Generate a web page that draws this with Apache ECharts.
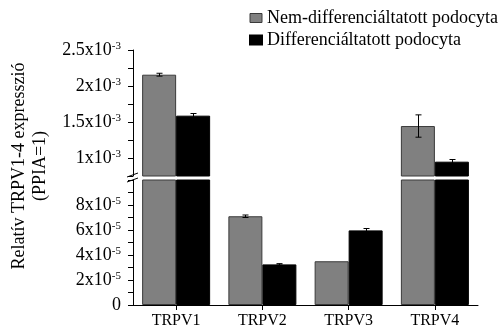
<!DOCTYPE html>
<html>
<head>
<meta charset="utf-8">
<script src="https://cdn.jsdelivr.net/npm/echarts@6/dist/echarts.min.js"></script>
<style>
    html, body {margin: 0; padding: 0; background: #fff;}
    #chart {width: 502px; height: 330px;}
</style>
</head>
<body>
<div id="chart"></div>
<script>
var categories = ['TRPV1', 'TRPV2', 'TRPV3', 'TRPV4'];
var seriesNames = ['Nem-differenciáltatott podocyta', 'Differenciáltatott podocyta'];
// relativ expresszio (PPIA=1)
var nemDiff = [2.157e-3, 7.1e-5, 3.5e-5, 1.444e-3];
var nemDiffErr = [0.02e-3, 0.1e-5, 0, 0.155e-3];
var diff = [1.588e-3, 3.25e-5, 5.97e-5, 0.949e-3];
var diffErr = [0.03e-3, 0.06e-5, 0.15e-5, 0.03e-3];
// tengely-szakaszok
var lowerRange = [0, 1e-4];
var upperRange = [0.75e-3, 2.5e-3];

var font = 'Liberation Serif';
var barW = 34;
var gray = '#808080';

function inRange(v, r) {
    return v >= r[0] && v <= r[1] ? v : '-';
}
function errData(values, errs, r, side) {
    var out = [];
    values.forEach(function (v, i) {
        if (v >= r[0] && v <= r[1] && errs[i] > 0) {
            out.push([i, v, errs[i], side]);
        }
    });
    return out;
}
function renderErr(params, api) {
    var cat = api.value(0), v = api.value(1), e = api.value(2), side = api.value(3);
    var hi = api.coord([cat, v + e]);
    var lo = api.coord([cat, v - e]);
    var x = Math.round(hi[0] + side * barW / 2) + 0.5;
    var st = {stroke: '#000', lineWidth: 1};
    return {
        type: 'group',
        children: [
            {type: 'line', shape: {x1: x, y1: hi[1], x2: x, y2: lo[1]}, style: st},
            {type: 'line', shape: {x1: x - 3, y1: hi[1], x2: x + 3, y2: hi[1]}, style: st},
            {type: 'line', shape: {x1: x - 3, y1: lo[1], x2: x + 3, y2: lo[1]}, style: st}
        ]
    };
}
var rich = {
    b: {fontFamily: font, fontSize: 18, color: '#000'},
    s: {fontFamily: font, fontSize: 11, color: '#000', verticalAlign: 'top', padding: [0, 0, 8, 0]}
};
function upperLabel(v) {
    var m = Math.round(v * 1e5) / 100;
    if (Math.abs(m * 2 - Math.round(m * 2)) > 1e-6) {
        return '';
    }
    return '{b|' + m + 'x10}{s|-3}';
}
function lowerLabel(v) {
    var n = Math.round(v * 1e5);
    if (n === 0) {
        return '{b|0}';
    }
    if (n % 2 !== 0 || n >= 10) {
        return '';
    }
    return '{b|' + n + 'x10}{s|-5}';
}

var chart = echarts.init(document.getElementById('chart'));
var axisLine = {show: true, lineStyle: {color: '#000', width: 1}};
var yTick = {show: true, length: 5, lineStyle: {color: '#000'}};

var series = [];
[[upperRange, 0], [lowerRange, 1]].forEach(function (g) {
    var r = g[0], idx = g[1];
    series.push({
        name: seriesNames[0], type: 'bar', xAxisIndex: idx, yAxisIndex: idx,
        barWidth: barW, barGap: '0%', clip: true,
        itemStyle: {color: gray, borderColor: '#3a3a3a', borderWidth: 1},
        data: nemDiff.map(function (v) { return idx === 1 ? v : inRange(v, r); })
    });
    series.push({
        name: seriesNames[1], type: 'bar', xAxisIndex: idx, yAxisIndex: idx,
        barWidth: barW, barGap: '0%', clip: true,
        itemStyle: {color: '#000', borderColor: '#000', borderWidth: 1},
        data: diff.map(function (v) { return idx === 1 ? v : inRange(v, r); })
    });
    series.push({
        name: 'err1-' + idx, type: 'custom', xAxisIndex: idx, yAxisIndex: idx, clip: true,
        renderItem: renderErr, z: 5,
        data: errData(nemDiff, nemDiffErr, r, -1)
    });
    series.push({
        name: 'err2-' + idx, type: 'custom', xAxisIndex: idx, yAxisIndex: idx, clip: true,
        renderItem: renderErr, z: 5,
        data: errData(diff, diffErr, r, 1)
    });
});

chart.setOption({
    animation: false,
    legend: {
        data: [
            {name: seriesNames[0], itemStyle: {color: gray, borderColor: '#3a3a3a', borderWidth: 1}},
            {name: seriesNames[1]}
        ],
        orient: 'vertical',
        left: 244, top: 4,
        itemWidth: 12, itemHeight: 9, itemGap: 4,
        icon: 'rect',
        textStyle: {fontFamily: font, fontSize: 18, color: '#000'}
    },
    grid: [
        {left: 133, right: 24, top: 50, height: 126},
        {left: 133, right: 24, top: 180, height: 125}
    ],
    xAxis: [
        {type: 'category', gridIndex: 0, data: categories, show: false},
        {
            type: 'category', gridIndex: 1, data: categories,
            axisLine: axisLine,
            axisTick: {show: true, alignWithLabel: true, length: 5, lineStyle: {color: '#000'}},
            axisLabel: {fontFamily: font, fontSize: 16, color: '#000', margin: 8}
        }
    ],
    yAxis: [
        {
            type: 'value', gridIndex: 0, min: upperRange[0], max: upperRange[1], interval: 0.25e-3,
            axisLine: axisLine, axisTick: yTick, splitLine: {show: false},
            axisLabel: {formatter: upperLabel, rich: rich, margin: 12}
        },
        {
            type: 'value', gridIndex: 1, min: lowerRange[0], max: lowerRange[1], interval: 1e-5,
            axisLine: axisLine, axisTick: yTick, splitLine: {show: false},
            axisLabel: {formatter: lowerLabel, rich: rich, margin: 12}
        }
    ],
    graphic: [
        {type: 'line', shape: {x1: 127, y1: 177, x2: 138, y2: 173}, style: {stroke: '#000', lineWidth: 1}},
        {type: 'line', shape: {x1: 127, y1: 182, x2: 138, y2: 178}, style: {stroke: '#000', lineWidth: 1}},
        {
            type: 'text', x: 19, y: 166, rotation: Math.PI / 2,
            style: {text: 'Relatív TRPV1-4 expresszió', font: '18px "Liberation Serif"', fill: '#000', align: 'center', verticalAlign: 'middle'}
        },
        {
            type: 'text', x: 40, y: 166, rotation: Math.PI / 2,
            style: {text: '(PPIA=1)', font: '18px "Liberation Serif"', fill: '#000', align: 'center', verticalAlign: 'middle'}
        }
    ],
    series: series
});
</script>
</body>
</html>
